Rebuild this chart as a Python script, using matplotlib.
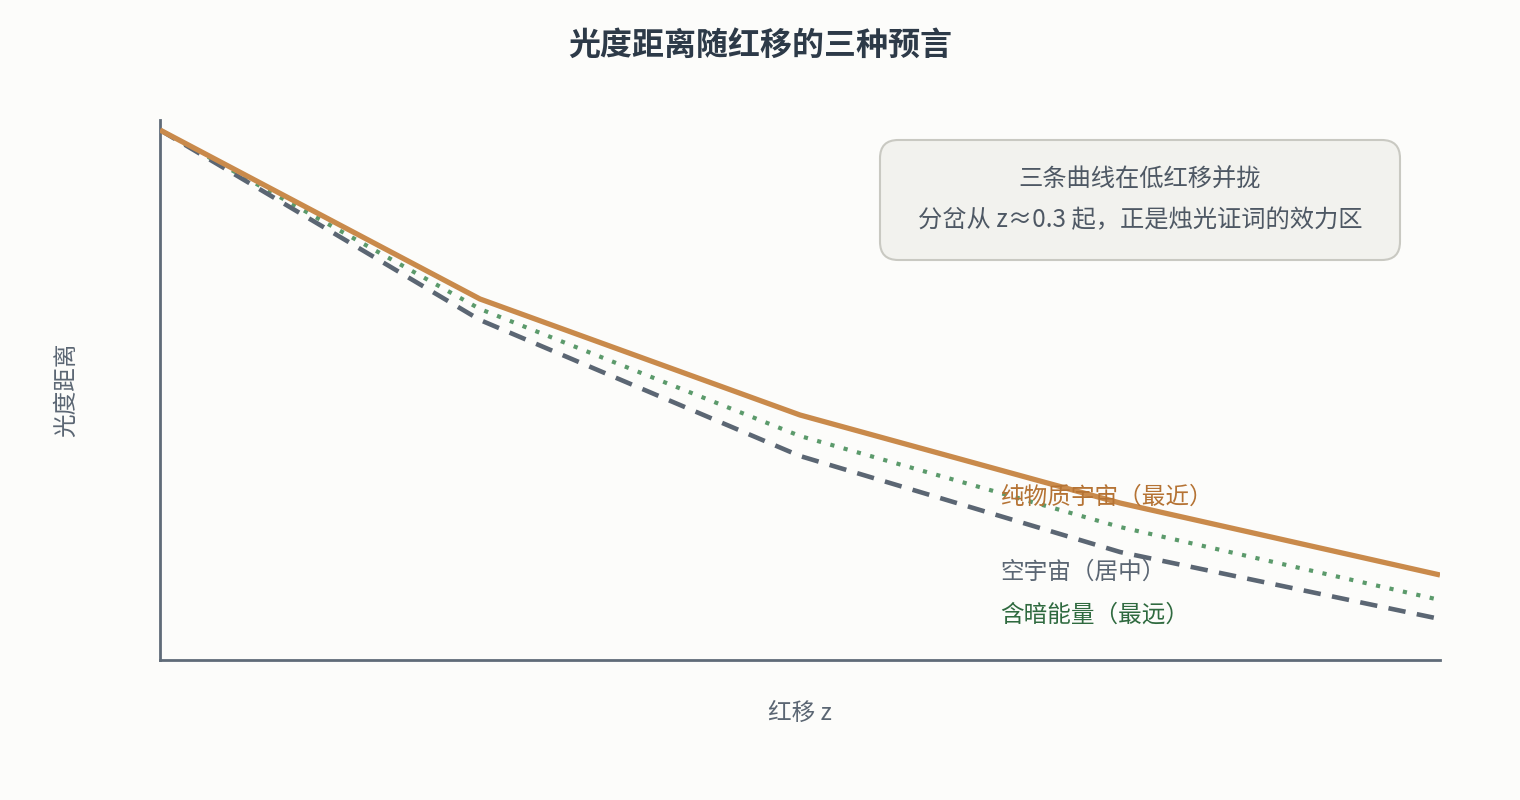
import numpy as np
import matplotlib.pyplot as plt
from matplotlib.patches import FancyBboxPatch

plt.rcParams['font.family'] = ['Noto Sans CJK SC', 'DejaVu Sans']

# redshift and three predicted curves (arbitrary distance units, grows downward)
z = [0.0, 0.5, 1.0, 1.5, 2.0]
d_matter = [0, 169, 285, 373, 445]
d_empty = [0, 190, 326, 422, 489]
d_lambda = [0, 179, 306, 397, 470]

lab_matter = '纯物质宇宙（最近）'
lab_empty = '空宇宙（居中）'
lab_lambda = '含暗能量（最远）'

bg = '#fcfcfa'
c_orange = '#c98a4b'
c_gray = '#5b6673'
c_green = '#5b9a6b'

fig = plt.figure(figsize=(15.2, 8), dpi=100, facecolor=bg)
ax = fig.add_axes([160/1520, 1 - 660/800, 1280/1520, 540/800])
ax.set_facecolor(bg)

ax.plot(z, d_matter, c=c_orange, lw=3.8, solid_capstyle='butt', zorder=3)
ax.plot(z, d_lambda, c=c_green, lw=3.0, ls=(0, (1.0, 2.3)), zorder=2)
ax.plot(z, d_empty, c=c_gray, lw=3.3, ls=(0, (3.8, 2.5)), zorder=2)

ax.set_xlim(0, 2.0)
ax.set_ylim(530, -10)
ax.set_xticks([])
ax.set_yticks([])
for s in ['top', 'right']:
    ax.spines[s].set_visible(False)
for s in ['left', 'bottom']:
    ax.spines[s].set_color('#5f6b78')
    ax.spines[s].set_linewidth(2)

# curve labels
xl = 1.3125
ax.text(xl, 367, lab_matter, color='#b57334', fontsize=17, va='center', ha='left')
ax.text(xl, 442, lab_empty, color=c_gray, fontsize=17, va='center', ha='left')
ax.text(xl, 485, lab_lambda, color='#2f6a3f', fontsize=17, va='center', ha='left')

ax.set_xlabel('红移 z', fontsize=17, color='#5b6673', labelpad=30)
ax.set_ylabel('光度距离', fontsize=17, color='#5b6673')
ax.yaxis.set_label_coords(-(160 - 78) / 1280, 0.5)

fig.text(0.5, 1 - 46/800, '光度距离随红移的三种预言', ha='center', va='center',
         fontsize=23, fontweight='bold', color='#2d3a48')

# note box
box = FancyBboxPatch((880/1520, 1 - 260/800), 520/1520, 120/800,
                     boxstyle='round,pad=0,rounding_size=0.012',
                     transform=fig.transFigure, facecolor='#f2f2ee',
                     edgecolor='#c9c9c2', lw=1.5, mutation_aspect=1520/800)
fig.patches.append(box)
fig.text(1140/1520, 1 - 180/800, '三条曲线在低红移并拢', ha='center', va='center',
         fontsize=17.5, color='#4e5864')
fig.text(1140/1520, 1 - 220/800, '分岔从 z≈0.3 起，正是烛光证词的效力区', ha='center',
         va='center', fontsize=17.5, color='#4e5864')

plt.savefig('out.png', dpi=100, facecolor=bg)
